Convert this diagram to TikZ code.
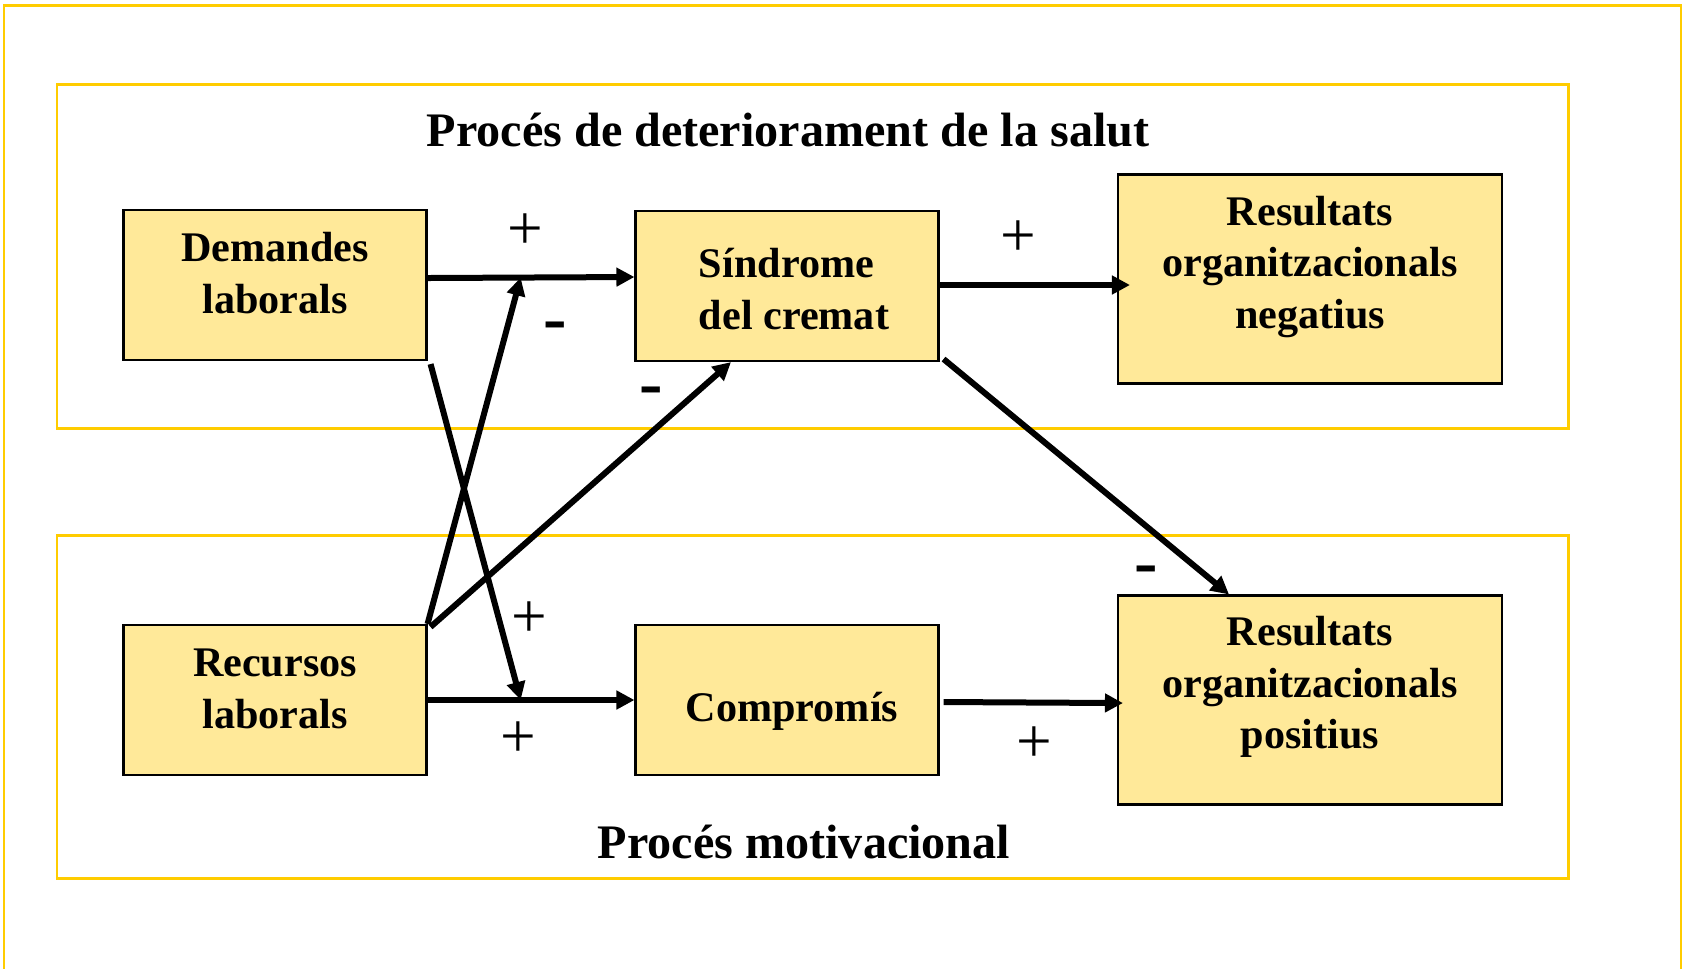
\documentclass[tikz,border=0pt]{standalone}
\usepackage{fontspec}
\setmainfont{Liberation Serif}
\usepackage{tikz}
\usetikzlibrary{calc}
\usetikzlibrary{arrows.meta}
\definecolor{boxfill}{HTML}{FFE999}
\definecolor{framegold}{HTML}{FFCC00}
\tikzset{
  groupframe/.style={draw=framegold, line width=0.85pt},
  smallfactor/.style={draw=black, line width=0.6pt, fill=boxfill, minimum width=30.3mm, minimum height=15mm, inner sep=0pt},
  bigfactor/.style={draw=black, line width=0.6pt, fill=boxfill, minimum width=38.4mm, minimum height=20.9mm, inner sep=0pt},
  factortext/.style={font=\fontsize{12}{14.7}\bfseries\selectfont, inner sep=0pt},
  title/.style={font=\fontsize{13.7}{16}\bfseries\selectfont, inner sep=0pt},
  plus/.style={font=\fontsize{18}{20}\selectfont, inner sep=0pt},
  minus/.style={font=\fontsize{20}{24}\bfseries\selectfont, inner sep=0pt},
  link/.style={line width=0.6mm, -{Triangle[length=1.8mm, width=1.8mm]}}
}
% box with its text: [align]{style}{name}{position}{text offset}{text}
\newcommand{\factor}[6][center]{ \node[#2] (#3) at (#4) {}; \node[factortext, align=#1] (#3text) at ($(#3)+(#5)$) {#6};}

\begin{document}
\begin{tikzpicture}[x=0.1mm, y=-0.1mm]
        \useasboundingbox (0,0) rectangle (1685,968);
        % outer frame
        \draw[framegold, line width=0.7pt] (4,990) -- (4,5.5) -- (1681,5.5) -- (1681,990);
        % process frames
        \draw[groupframe] (57,84) rectangle (1568,428);
        \draw[groupframe] (57,535) rectangle (1568,878);
        \node[title] (healthtitle) at (788,130) {Procés de deteriorament de la salut};
        \node[title] (motivtitle) at (804,842) {Procés motivacional};
        % row1
        \factor{smallfactor}{dem}{275,285}{0,-12}{Demandes\\laborals}
        \factor[left]{smallfactor}{sin}{787,286}{7,3}{Síndrome\\del cremat}
        \factor{bigfactor}{rneg}{1310,279}{0,-12}{Resultats\\organitzacionals\\negatius}
        % row2
        \factor{smallfactor}{rec}{275,700}{0,-11}{Recursos\\laborals}
        \factor{smallfactor}{com}{787,700}{5,11}{Compromís}
        \factor{bigfactor}{rpos}{1310,700}{0,-13}{Resultats\\organitzacionals\\positius}

        % arrows
        \coordinate (demout) at ($(dem.east)+(0,-7)$);
        \coordinate (sinin) at ($(sin.west)+(0,-9)$);
        \coordinate (j1) at ($(demout)!0.45!(sinin)$);
        \coordinate (j2) at ($(rec.east)!0.45!(com.west)$);
        \draw[link] (demout) -- (sinin);
        \draw[link] (rec.east) -- (com.west);
        \draw[link] (rec.north east) -- (j1);
        \draw[link] ($(rec.north east)+(3,3)$) -- ($(sin.south)+(-56,0)$);
        \draw[link] ($(dem.south east)+(3,3)$) -- (j2);
        \draw[link, shorten >=-1.3mm] ($(sin.east)+(0,-1)$) -- ($(rneg.west)+(0,6)$);
        \draw[link] ($(sin.south east)+(4,-3)$) -- ($(rpos.north)+(-81,0)$);
        \draw[link, shorten >=-0.6mm] ($(com.east)+(4,2)$) -- ($(rpos.west)+(0,3)$);

        % signs
        \node[plus] (p1) at (525,232) {+};
        \node[minus] (m1) at (555,332) {-};
        \node[minus] (m2) at (651,397) {-};
        \node[plus] (p2) at (1018,239) {+};
        \node[plus] (p3) at (529,620) {+};
        \node[plus] (p4) at (518,740) {+};
        \node[plus] (p5) at (1034,745) {+};
        \node[minus] (m3) at (1146,576) {-};

    \end{tikzpicture}
\end{document}
